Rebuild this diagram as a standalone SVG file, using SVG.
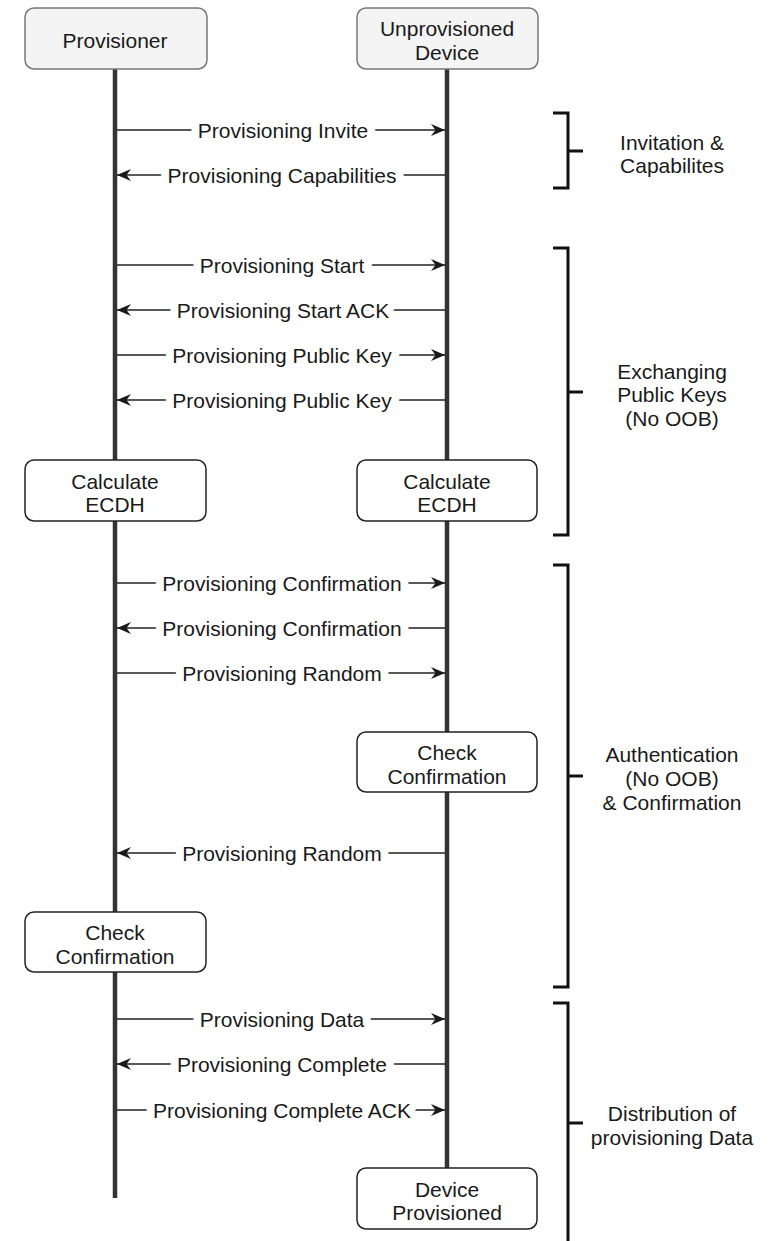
<svg xmlns="http://www.w3.org/2000/svg" width="777" height="1241" viewBox="0 0 777 1241">
<style>
text{font-family:"Liberation Sans",Arial,sans-serif;font-size:21px;fill:#1a1a1a;text-anchor:middle;dominant-baseline:central}
.hdr{fill:#f4f4f4;stroke:#777;stroke-width:1.5}
.box{fill:#fff;stroke:#222;stroke-width:1.5}
.life{stroke:#333;stroke-width:4.5;fill:none}
.msg{stroke:#222;stroke-width:1.7;fill:none}
.lbl{stroke:#fff;stroke-width:16;stroke-linejoin:round;paint-order:stroke}
.br{stroke:#111;stroke-width:3;fill:none}
</style>
<defs>
<marker id="ah" viewBox="0 0 14 13" refX="14" refY="6.5" markerWidth="14" markerHeight="13" markerUnits="userSpaceOnUse" orient="auto">
<path d="M0,0.5 L14,6.5 L0,12.5 L4.5,6.5 Z" fill="#1a1a1a"/>
</marker>
</defs>
<g id="lifelines">
<line class="life" x1="115" y1="69" x2="115" y2="1198"/>
<line class="life" x1="447" y1="69" x2="447" y2="1168"/>
</g>
<g id="connectors">
<line class="msg" x1="117" y1="130" x2="445" y2="130" marker-end="url(#ah)"/>
<line class="msg" x1="445" y1="175" x2="117" y2="175" marker-end="url(#ah)"/>
<line class="msg" x1="117" y1="265" x2="445" y2="265" marker-end="url(#ah)"/>
<line class="msg" x1="445" y1="310" x2="117" y2="310" marker-end="url(#ah)"/>
<line class="msg" x1="117" y1="355" x2="445" y2="355" marker-end="url(#ah)"/>
<line class="msg" x1="445" y1="400" x2="117" y2="400" marker-end="url(#ah)"/>
<line class="msg" x1="117" y1="583" x2="445" y2="583" marker-end="url(#ah)"/>
<line class="msg" x1="445" y1="628" x2="117" y2="628" marker-end="url(#ah)"/>
<line class="msg" x1="117" y1="673" x2="445" y2="673" marker-end="url(#ah)"/>
<line class="msg" x1="445" y1="853" x2="117" y2="853" marker-end="url(#ah)"/>
<line class="msg" x1="117" y1="1019" x2="445" y2="1019" marker-end="url(#ah)"/>
<line class="msg" x1="445" y1="1064" x2="117" y2="1064" marker-end="url(#ah)"/>
<line class="msg" x1="117" y1="1110" x2="445" y2="1110" marker-end="url(#ah)"/>
<text class="lbl" x="283" y="130">Provisioning Invite</text>
<text class="lbl" x="282" y="175">Provisioning Capabilities</text>
<text class="lbl" x="282" y="265">Provisioning Start</text>
<text class="lbl" x="283" y="310">Provisioning Start ACK</text>
<text class="lbl" x="282" y="355">Provisioning Public Key</text>
<text class="lbl" x="282" y="400">Provisioning Public Key</text>
<text class="lbl" x="282" y="583">Provisioning Confirmation</text>
<text class="lbl" x="282" y="628">Provisioning Confirmation</text>
<text class="lbl" x="282" y="673">Provisioning Random</text>
<text class="lbl" x="282" y="853">Provisioning Random</text>
<text class="lbl" x="282" y="1019">Provisioning Data</text>
<text class="lbl" x="282" y="1064">Provisioning Complete</text>
<text class="lbl" x="282" y="1110">Provisioning Complete ACK</text>
</g>
<g id="provisioner">
<rect class="hdr" x="25" y="8" width="182" height="61" rx="9"/>
<text x="115" y="40">Provisioner</text>
</g>
<g id="device">
<rect class="hdr" x="357" y="8" width="181" height="61" rx="9"/>
<text x="447" y="28">Unprovisioned</text>
<text x="447" y="52">Device</text>
</g>
<g id="ecdh-provisioner">
<rect class="box" x="25" y="460" width="181" height="61" rx="9"/>
<text x="115" y="481">Calculate</text>
<text x="115" y="504">ECDH</text>
</g>
<g id="ecdh-device">
<rect class="box" x="357" y="460" width="180" height="61" rx="9"/>
<text x="447" y="481">Calculate</text>
<text x="447" y="504">ECDH</text>
</g>
<g id="check-device">
<rect class="box" x="357" y="732" width="180" height="60" rx="9"/>
<text x="447" y="752">Check</text>
<text x="447" y="776">Confirmation</text>
</g>
<g id="check-provisioner">
<rect class="box" x="25" y="912" width="181" height="60" rx="9"/>
<text x="115" y="932">Check</text>
<text x="115" y="956">Confirmation</text>
</g>
<g id="device-provisioned">
<rect class="box" x="357" y="1168" width="180" height="61" rx="9"/>
<text x="447" y="1189">Device</text>
<text x="447" y="1212">Provisioned</text>
</g>
<g id="phase-invitation">
<path class="br" d="M553,113 H568 V188 H553 M568,151 H583"/>
<text x="672" y="142">Invitation &amp;</text>
<text x="672" y="165">Capabilites</text>
</g>
<g id="phase-keys">
<path class="br" d="M553,248 H568 V535 H553 M568,392 H583"/>
<text x="672" y="371">Exchanging</text>
<text x="672" y="394">Public Keys</text>
<text x="672" y="418">(No OOB)</text>
</g>
<g id="phase-auth">
<path class="br" d="M553,565 H568 V987 H553 M568,776 H583"/>
<text x="672" y="754">Authentication</text>
<text x="672" y="778">(No OOB)</text>
<text x="672" y="802">&amp; Confirmation</text>
</g>
<g id="phase-distribution">
<path class="br" d="M553,1003 H568 V1245 M568,1123 H583"/>
<text x="672" y="1113">Distribution of</text>
<text x="672" y="1137">provisioning Data</text>
</g>
</svg>
